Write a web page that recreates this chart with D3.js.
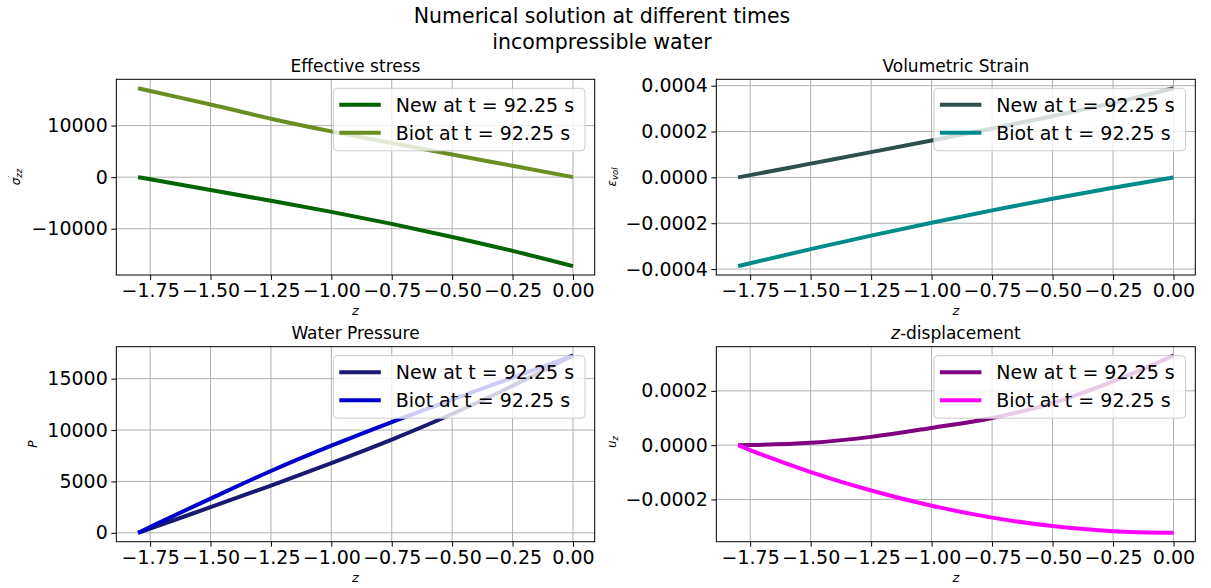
<!DOCTYPE html>
<html>
<head>
<meta charset="utf-8">
<script src="https://cdn.jsdelivr.net/npm/d3@7"></script>
<style>
  html, body { margin: 0; padding: 0; background: #fff; }
  svg { display: block; font-family: "DejaVu Sans", sans-serif; }
</style>
</head>
<body>
<svg id="fig" width="1211" height="588"></svg>
<script>
// depth coordinate of the sample points
const zValues = [-1.8, -1.75, -1.5, -1.25, -1.0, -0.75, -0.5, -0.25, 0.0];

// effective stress
const stressNew  = [0, -410, -2480, -4590, -6730, -9060, -11600, -14300, -17250];
const stressBiot = [17250, 16720, 14100, 11330, 8870, 6620, 4400, 2200, 0];

// volumetric strain
const strainNew  = [0, 0.0000098, 0.000060, 0.000110, 0.000161, 0.000213, 0.000267, 0.000325, 0.000389];
const strainBiot = [-0.000387, -0.0003745, -0.000313, -0.000254, -0.000198, -0.000144, -0.000093, -0.000045, 0];

// water pressure
const pressureNew  = [0, 410, 2500, 4600, 6780, 9070, 11560, 14300, 17250];
const pressureBiot = [0, 570, 3330, 6020, 8480, 10780, 12960, 15100, 17250];

// vertical displacement
const dispNew  = [0, 0.0000005, 0.0000084, 0.0000305, 0.0000635, 0.0001, 0.000155, 0.000235, 0.000330];
const dispBiot = [0, -0.000018, -0.000099, -0.000167, -0.000223, -0.000267, -0.000298, -0.000317, -0.000323];

// tick labels
const xTicks = [-1.75, -1.5, -1.25, -1.0, -0.75, -0.5, -0.25, 0];
const stressTicks = [-10000, 0, 10000];
const strainTicks = [-0.0004, -0.0002, 0, 0.0002, 0.0004];
const pressureTicks = [0, 5000, 10000, 15000];
const dispTicks = [-0.0002, 0, 0.0002];

const legendNames = ["New at t = 92.25 s", "Biot at t = 92.25 s"];

const panels = [
  { title: [["Effective stress", false]], ylab: "stress", x0: 116.3, y0: 79.3, x1: 594.7, y1: 275,
    series: [stressNew, stressBiot], colors: ["#006400", "#6b8e23"], ticks: stressTicks, fmt: d3.format("d"),
    ylabPos: [16, 177] },
  { title: [["Volumetric Strain", false]], ylab: "strain", x0: 716.3, y0: 79.3, x1: 1195.3, y1: 275,
    series: [strainNew, strainBiot], colors: ["#2f4f4f", "#008b8b"], ticks: strainTicks, fmt: d3.format(".4f"),
    ylabPos: [612, 177] },
  { title: [["Water Pressure", false]], ylab: "pressure", x0: 116.3, y0: 346.7, x1: 594.7, y1: 541.7,
    series: [pressureNew, pressureBiot], colors: ["#191970", "#0000cd"], ticks: pressureTicks, fmt: d3.format("d"),
    ylabPos: [33, 444] },
  { title: [["z", true], ["-displacement", false]], ylab: "disp", x0: 716.3, y0: 346.7, x1: 1195.3, y1: 541.7,
    series: [dispNew, dispBiot], colors: ["#800080", "#ff00ff"], ticks: dispTicks, fmt: d3.format(".4f"),
    ylabPos: [612, 442] }
];

const svg = d3.select("#fig");

// figure title
const sup = svg.append("text").attr("text-anchor", "middle").attr("font-size", 20.5).attr("fill", "#000");
sup.append("tspan").attr("x", 602).attr("y", 23).text("Numerical solution at different times");
sup.append("tspan").attr("x", 602).attr("y", 49).text("incompressible water");

panels.forEach(p => {
  const g = svg.append("g");
  const x = d3.scaleLinear().domain([-1.89, 0.09]).range([p.x0, p.x1]);
  const allY = p.series.flat();
  const lo = d3.min(allY), hi = d3.max(allY), pad = (hi - lo) * 0.05;
  const y = d3.scaleLinear().domain([lo - pad, hi + pad]).range([p.y1, p.y0]);

  // grid
  const grid = g.append("g").attr("stroke", "#b0b0b0").attr("stroke-width", 1);
  xTicks.forEach(t => grid.append("line").attr("x1", x(t)).attr("x2", x(t)).attr("y1", p.y0).attr("y2", p.y1));
  p.ticks.forEach(t => grid.append("line").attr("x1", p.x0).attr("x2", p.x1).attr("y1", y(t)).attr("y2", y(t)));

  // curves
  const line = d3.line().x((d, i) => x(zValues[i])).y(d => y(d)).curve(d3.curveMonotoneX);
  p.series.forEach((s, i) => {
    g.append("path").datum(s).attr("d", line).attr("fill", "none")
      .attr("stroke", p.colors[i]).attr("stroke-width", 4).attr("stroke-linecap", "butt");
  });

  // axes
  const xAxis = d3.axisBottom(x).tickValues(xTicks).tickFormat(d3.format(".2f")).tickSize(5).tickPadding(3.5);
  const yAxis = d3.axisLeft(y).tickValues(p.ticks).tickFormat(p.fmt).tickSize(5).tickPadding(3.5);
  const gx = g.append("g").attr("transform", `translate(0,${p.y1})`).call(xAxis);
  const gy = g.append("g").attr("transform", `translate(${p.x0},0)`).call(yAxis);
  [gx, gy].forEach(a => {
    a.select(".domain").remove();
    a.selectAll("text").attr("font-size", 19).attr("fill", "#000").attr("font-family", "DejaVu Sans, sans-serif");
    a.selectAll("line").attr("stroke", "#000").attr("stroke-width", 1);
  });

  // frame
  g.append("rect").attr("x", p.x0).attr("y", p.y0).attr("width", p.x1 - p.x0).attr("height", p.y1 - p.y0)
    .attr("fill", "none").attr("stroke", "#000").attr("stroke-width", 1);

  // title
  const cx = (p.x0 + p.x1) / 2;
  const tt = g.append("text").attr("x", cx).attr("y", p.y0 - 7.5).attr("text-anchor", "middle").attr("font-size", 17);
  p.title.forEach(([s, it]) => tt.append("tspan").attr("font-style", it ? "italic" : null).text(s));

  // x label
  g.append("text").attr("x", cx).attr("y", p.y1 + 40).attr("text-anchor", "middle")
    .attr("font-size", 13).attr("font-style", "italic").text("z");

  // y label
  const yl = g.append("text").attr("transform", `translate(${p.ylabPos[0]},${p.ylabPos[1]}) rotate(-90)`)
    .attr("text-anchor", "middle").attr("dominant-baseline", "central").attr("font-size", 12);
  if (p.ylab === "stress") {
    yl.append("tspan").attr("font-style", "italic").text("σ");
    yl.append("tspan").attr("font-size", 8).attr("dy", -4).text("′");
    yl.append("tspan").attr("font-size", 8.5).attr("font-style", "italic").attr("dx", -2).attr("dy", 7).text("zz");
  } else if (p.ylab === "strain") {
    yl.append("tspan").attr("font-style", "italic").text("ε");
    yl.append("tspan").attr("font-size", 8.5).attr("font-style", "italic").attr("dy", 3).text("vol");
  } else if (p.ylab === "pressure") {
    yl.append("tspan").attr("font-style", "italic").text("P");
  } else {
    yl.append("tspan").attr("font-style", "italic").text("u");
    yl.append("tspan").attr("font-size", 8.5).attr("font-style", "italic").attr("dy", 3).text("z");
  }

  // legend
  const lw = 251.7, lh = 62.5;
  const lx = p.x1 - 9.7 - lw, ly = p.y0 + 9;
  const lg = g.append("g");
  lg.append("rect").attr("x", lx).attr("y", ly).attr("width", lw).attr("height", lh).attr("rx", 4)
    .attr("fill", "#fff").attr("fill-opacity", 0.8).attr("stroke", "#cccccc").attr("stroke-width", 1);
  legendNames.forEach((name, i) => {
    const ry = ly + 16.5 + i * 28;
    lg.append("line").attr("x1", lx + 6).attr("x2", lx + 47.5).attr("y1", ry).attr("y2", ry)
      .attr("stroke", p.colors[i]).attr("stroke-width", 4);
    lg.append("text").attr("x", lx + 62.4).attr("y", ry).attr("dominant-baseline", "central")
      .attr("font-size", 19).attr("fill", "#000").text(name);
  });
});
</script>
</body>
</html>
